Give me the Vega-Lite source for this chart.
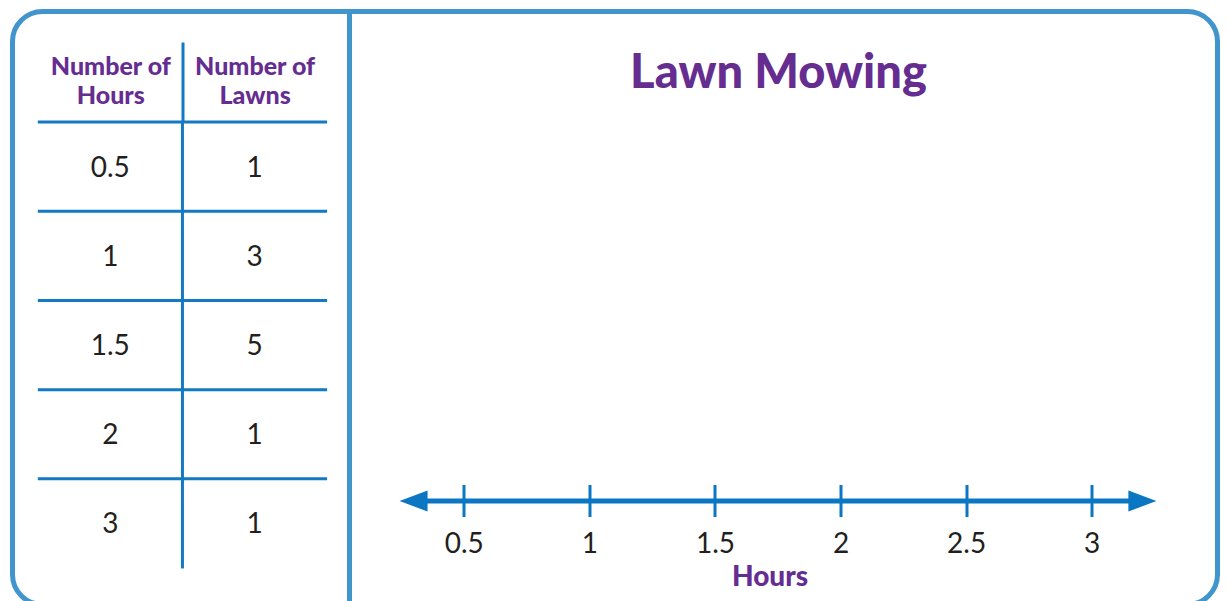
{
  "$schema": "https://vega.github.io/schema/vega-lite/v6.json",
  "background": "#ffffff",
  "padding": {"left": 9.5, "top": 8.5, "right": 8.5, "bottom": -5.5},
  "bounds": "flush",
  "spacing": 0,
  "config": {"view": {"stroke": null}, "font": "Lato"},
  "hconcat": [
    {
      "width": 337,
      "height": 593,
      "data": {"values": [
        {"Number of Hours": 0.5, "Number of Lawns": 1},
        {"Number of Hours": 1, "Number of Lawns": 3},
        {"Number of Hours": 1.5, "Number of Lawns": 5},
        {"Number of Hours": 2, "Number of Lawns": 1},
        {"Number of Hours": 3, "Number of Lawns": 1}
      ]},
      "layer": [
        {
          "data": {"values": [{}]},
          "mark": {"type": "rect", "filled": false, "color": "#3f95cc", "stroke": "#3f95cc", "strokeWidth": 5, "cornerRadiusTopLeft": 30, "cornerRadiusBottomLeft": 30},
          "encoding": {}
        },
        {
          "transform": [{"fold": ["Number of Hours", "Number of Lawns"], "as": ["column", "value"]}],
          "mark": {"type": "tick", "orient": "horizontal", "size": 145, "thickness": 3, "color": "#1279c2", "opacity": 1},
          "encoding": {
            "x": {"field": "column", "type": "nominal", "title": null,
              "scale": {"type": "band", "domain": ["Number of Hours", "Number of Lawns"], "paddingInner": 0, "paddingOuter": 0.168, "align": 0.53},
              "axis": {"orient": "top", "offset": -110.5, "domain": false, "grid": false, "ticks": true, "tickSize": 80, "tickWidth": 3, "tickOffset": 72.13,
                "tickColor": {"condition": {"test": "datum.value === 'Number of Hours'", "value": "#1279c2"}, "value": "transparent"},
                "labelOffset": -72.13, "labelPadding": -37.5, "labelExpr": "['Number of', substring(datum.label, 10)]",
                "labelFont": "Lato", "labelFontWeight": 900, "labelFontSize": 25, "labelColor": "#662d91", "labelLineHeight": 29,
                "labelAngle": 0, "labelOverlap": false, "title": null}},
            "y": {"field": "Number of Hours", "type": "ordinal", "bandPosition": 0,
              "scale": {"type": "band", "domain": [0.5, 1, 1.5, 2, 3], "paddingInner": 0, "paddingOuter": 0.824, "align": 0.752},
              "axis": null}
          }
        },
        {
          "transform": [{"fold": ["Number of Hours", "Number of Lawns"], "as": ["column", "value"]}, {"filter": "datum.column === 'Number of Lawns'"}],
          "mark": {"type": "tick", "orient": "vertical", "size": 90, "thickness": 3, "color": "#1279c2", "opacity": 1},
          "encoding": {
            "x": {"field": "column", "type": "nominal", "title": null, "bandPosition": 0,
              "scale": {"type": "band", "domain": ["Number of Hours", "Number of Lawns"], "paddingInner": 0, "paddingOuter": 0.168, "align": 0.53}},
            "y": {"field": "Number of Hours", "type": "ordinal",
              "scale": {"type": "band", "domain": [0.5, 1, 1.5, 2, 3], "paddingInner": 0, "paddingOuter": 0.824, "align": 0.752},
              "axis": null}
          }
        },
        {
          "transform": [{"fold": ["Number of Hours", "Number of Lawns"], "as": ["column", "value"]}],
          "mark": {"type": "text", "font": "Lato", "fontSize": 28, "color": "#231f20", "baseline": "middle", "align": "center", "dy": 2},
          "encoding": {
            "x": {"field": "column", "type": "nominal", "title": null,
              "scale": {"type": "band", "domain": ["Number of Hours", "Number of Lawns"], "paddingInner": 0, "paddingOuter": 0.168, "align": 0.53}},
            "y": {"field": "Number of Hours", "type": "ordinal",
              "scale": {"type": "band", "domain": [0.5, 1, 1.5, 2, 3], "paddingInner": 0, "paddingOuter": 0.824, "align": 0.752},
              "axis": null},
            "text": {"field": "value", "type": "nominal"}
          }
        }
      ]
    },
    {
      "width": 868,
      "height": 593,
      "title": {"text": "Lawn Mowing", "font": "Lato", "fontWeight": 900, "fontSize": 47, "color": "#662d91", "anchor": "middle", "frame": "group", "offset": -89, "dx": -5},
      "data": {"values": [{}]},
      "layer": [
        {
          "mark": {"type": "rect", "filled": false, "color": "#3f95cc", "stroke": "#3f95cc", "strokeWidth": 5, "cornerRadiusTopRight": 30, "cornerRadiusBottomRight": 30},
          "encoding": {}
        },
        {
          "mark": {"type": "rule", "color": "#0b77c2", "strokeWidth": 5, "strokeCap": "butt"},
          "encoding": {
            "x": {"datum": 0.3, "type": "quantitative",
              "scale": {"domain": [0.045, 3.501], "nice": false, "zero": false},
              "axis": {"orient": "bottom", "offset": -120, "values": [0.5, 1, 1.5, 2, 2.5, 3], "format": "~g",
                "domain": false, "grid": false, "tickSize": 32, "tickWidth": 3, "tickColor": "#0b77c2",
                "labelFont": "Lato", "labelFontSize": 28, "labelColor": "#231f20", "labelPadding": 14,
                "labelFlush": false, "labelOverlap": false,
                "title": "Hours", "titleFont": "Lato", "titleFontWeight": 900, "titleFontSize": 28, "titleColor": "#662d91",
                "titlePadding": 5, "titleX": 420}},
            "x2": {"datum": 3.2},
            "y": {"datum": 0, "type": "quantitative", "scale": {"domain": [-1, 4.73], "nice": false, "zero": false}, "axis": null}
          }
        },
        {
          "mark": {"type": "point", "shape": "M-1,-0.75L1,0L-1,0.75Z", "filled": true, "size": 784, "color": "#0b77c2", "opacity": 1, "strokeWidth": 0},
          "encoding": {
            "x": {"datum": 3.202, "type": "quantitative"},
            "y": {"datum": 0, "type": "quantitative"}
          }
        },
        {
          "mark": {"type": "point", "shape": "M1,-0.75L-1,0L1,0.75Z", "filled": true, "size": 784, "color": "#0b77c2", "opacity": 1, "strokeWidth": 0},
          "encoding": {
            "x": {"datum": 0.3, "type": "quantitative"},
            "y": {"datum": 0, "type": "quantitative"}
          }
        }
      ]
    }
  ]
}
